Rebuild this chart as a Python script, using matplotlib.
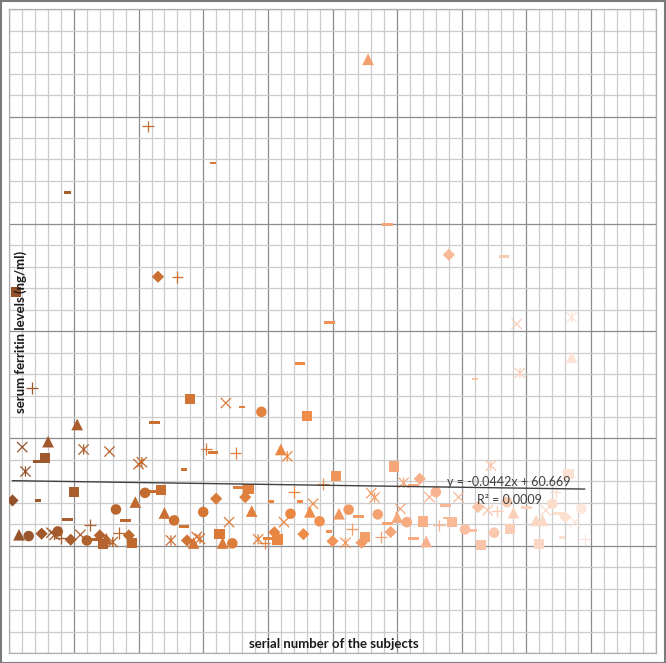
import numpy as np
import matplotlib
matplotlib.use("Agg")
import matplotlib.pyplot as plt
from matplotlib.colors import LinearSegmentedColormap
from matplotlib.path import Path
from matplotlib.patches import Rectangle

# ---------------- data ----------------
serial = [1, 2, 3, 4, 5, 6, 7, 9, 9, 10, 11, 12, 13, 14, 15, 16, 18, 18, 19, 20,
          21, 22, 23, 24, 25, 27, 28, 29, 30, 31, 32, 33, 34, 36, 37, 38, 39, 40, 41, 42,
          43, 45, 45, 46, 47, 48, 50, 51, 52, 54, 54, 55, 56, 57, 58, 59, 60, 61, 63, 63,
          64, 65, 66, 67, 68, 69, 70, 71, 72, 73, 74, 75, 77, 78, 79, 80, 81, 82, 83, 84,
          85, 86, 87, 88, 90, 90, 91, 92, 93, 94, 96, 97, 99, 99, 100, 101, 102, 104, 105, 106,
          108, 109, 110, 111, 112, 113, 114, 115, 117, 117, 118, 119, 120, 121, 122, 123, 125, 125, 127, 128,
          129, 130, 132, 133, 135, 135, 136, 137, 139, 141, 143, 144, 145, 146, 148, 149, 150, 151, 153, 154,
          155, 156, 157, 158, 160, 163, 164, 165, 166, 168, 169, 170, 171, 172, 173, 174, 174, 175, 177, 178]
ferritin = [42.2, 236.2, 10.2, 91.9, 69.2, 9.0, 146.8, 42.2, 78.5, 11.2, 81.7, 97.0, 12.1, 10.0, 13.3, 7.2, 24.5, 329.3, 5.6, 50.0,
            113.0, 10.2, 89.7, 4.9, 19.6, 5.9, 9.6, 1.9, 6.5, 87.8, 3.4, 33.8, 12.1, 23.6, 9.6, 2.8, 40.7, 76.0, 77.9, 49.3,
            390.8, 114.5, 50.5, 250.7, 52.1, 30.5, 4.9, 23.6, 250.7, 70.8, 18.0, 4.9, 137.0, 2.5, 8.1, 6.5, 31.4, 90.3, 86.6, 356.6,
            43.8, 11.0, 2.5, 133.0, 22.0, 2.2, 86.3, 54.6, 129.3, 45.3, 52.7, 32.3, 6.0, 124.8, 2.6, 6.5, 41.4, 12.5, 5.7, 89.7,
            22.0, 83.3, 29.8, 50.0, 169.7, 41.3, 10.8, 121.0, 31.6, 39.1, 22.8, 57.6, 208.3, 13.3, 4.2, 65.2, 29.8, 2.8, 33.6, 15.8,
            27.3, 2.8, 8.1, 453.4, 49.0, 45.0, 29.2, 8.1, 299.5, 21.0, 12.8, 73.8, 26.7, 34.4, 58.7, 22.0, 56.0, 6.5, 62.4, 22.7,
            4.0, 45.3, 50.0, 18.9, 37.5, 25.8, 271.2, 22.0, 45.3, 15.2, 14.2, 155.5, 36.0, 0.9, 33.0, 74.8, 12.1, 32.0, 269.4, 40.7,
            15.8, 30.7, 206.7, 161.0, 36.0, 23.6, 1.9, 23.6, 32.9, 39.1, 50.0, 29.8, 7.4, 26.7, 67.0, 175.7, 213.0, 22.0, 34.4, 6.5]
marker_kind = ['D', 's', '^', 'x', '*', 'o', '+', 'S', 'L', 'D', 's', '^', 'x', '*', 'o', '+', 'L', 'S', 'D', 's',
               '^', 'x', '*', 'o', '+', 'L', 'D', 's', '^', 'x', '*', 'o', '+', 'L', 'D', 's', '^', 'x', '*', 'o',
               '+', 'L', 'L', 'D', 's', '^', '*', 'o', '+', 'S', 'L', 'D', 's', '^', 'x', '*', 'o', '+', 'L', 'S',
               'D', 's', '^', 'x', 'x', 'o', '+', 'L', 'S', 'D', 's', '^', '*', 'o', '+', 'L', 'S', 'D', 's', '^',
               'x', '*', 'o', '+', 'L', 'S', 'D', 's', '^', 'x', 'o', '+', 'L', 'S', 'D', 's', '^', '*', 'o', '+',
               'L', 'D', 's', '^', 'x', '*', 'o', '+', 'L', 'L', 'D', 's', '^', 'x', '*', 'o', 'L', 'L', 'D', 's',
               '^', 'x', 'o', '+', 'L', 'S', 'D', 's', 'x', 'o', 'L', 'S', 'D', 's', 'x', '*', 'o', '+', 'L', 'o',
               's', '^', 'x', '*', 'L', '^', 's', '^', 'x', 'o', '+', 'L', 'S', 'D', 's', '^', '*', 'x', 'o', '+']

slope = -0.0442
intercept = 60.669
r_squared = 0.0009

x_label = "serial number of the subjects"
y_label = "serum ferritin levels (ng/ml)"

# ---------------- styling ----------------
W, H = 666, 663
fig = plt.figure(figsize=(W / 100, H / 100), dpi=100)
ax = fig.add_axes([9.3 / W, 1 - 653 / H, (655.7 - 9.3) / W, (653 - 9.3) / H])

ax.set_xlim(0, 200)
ax.set_ylim(-100, 500)
ax.set_xticks(np.arange(0, 201, 20))
ax.set_xticks(np.arange(0, 201, 4), minor=True)
ax.set_yticks(np.arange(-100, 501, 100))
ax.set_yticks(np.arange(-100, 501, 20), minor=True)
ax.tick_params(which='both', length=0, labelbottom=False, labelleft=False)
ax.grid(which='minor', color='#cccccc', lw=0.9)
ax.grid(which='major', color='#8c8c8c', lw=0.9)
ax.set_axisbelow(True)
for sp in ax.spines.values():
    sp.set_color('#b0b0b0')
    sp.set_linewidth(0.9)

cmap = LinearSegmentedColormap.from_list(
    'excel_orange',
    [(0.0, '#93522A'), (0.25, '#C86E30'), (0.5, '#EE8A45'), (0.72, '#F7B08A'), (1.0, '#FDE7DC')])

long_dash = Path([(-0.5, -0.14), (0.5, -0.14), (0.5, 0.14), (-0.5, 0.14), (-0.5, -0.14)],
                 [Path.MOVETO, Path.LINETO, Path.LINETO, Path.LINETO, Path.CLOSEPOLY])
short_dash = Path([(-0.5, -0.22), (0.5, -0.22), (0.5, 0.22), (-0.5, 0.22), (-0.5, -0.22)],
                  [Path.MOVETO, Path.LINETO, Path.LINETO, Path.LINETO, Path.CLOSEPOLY])
asterisk = Path([(-0.5, -0.5), (0.5, 0.5), (-0.5, 0.5), (0.5, -0.5), (0, -0.5), (0, 0.5)],
                [Path.MOVETO, Path.LINETO, Path.MOVETO, Path.LINETO, Path.MOVETO, Path.LINETO])

styles = {
    'D': dict(marker='D', size=6.2, filled=True),
    's': dict(marker='s', size=7.4, filled=True),
    '^': dict(marker='^', size=8.4, filled=True),
    'o': dict(marker='o', size=7.6, filled=True),
    'x': dict(marker='x', size=7.4, filled=False),
    '+': dict(marker='+', size=8.4, filled=False),
    '*': dict(marker=asterisk, size=7.4, filled=False),
    'L': dict(marker=long_dash, size=7.6, filled=True),
    'S': dict(marker=short_dash, size=4.4, filled=True),
}

serial_arr = np.array(serial)
ferr_arr = np.array(ferritin)
kind_arr = np.array(marker_kind)
norm = plt.Normalize(1, 178)

for kind, st in styles.items():
    m = kind_arr == kind
    if not m.any():
        continue
    cols = cmap(norm(serial_arr[m]))
    if st['filled']:
        ax.scatter(serial_arr[m], ferr_arr[m], marker=st['marker'], s=st['size'] ** 2,
                   c=cols, edgecolors='none', zorder=3)
    else:
        ax.scatter(serial_arr[m], ferr_arr[m], marker=st['marker'], s=st['size'] ** 2,
                   c=cols, linewidths=0.9, zorder=3)

# linear trendline (from the equation shown on the chart)
xt = np.array([serial_arr.min(), serial_arr.max()])
ax.plot(xt, slope * xt + intercept, color='#404040', lw=1.0, zorder=4)

eq = f"y = {slope:.4f}x + {intercept:.3f}"
fig.text(509 / W, 1 - 482.5 / H, eq, ha='center', va='center', fontsize=9,
         family='Lato', color='#404040')
fig.text(509 / W, 1 - 500 / H, f"R² = {r_squared:.4f}", ha='center', va='center',
         fontsize=9, family='Lato', color='#404040')

fig.text(333.5 / W, 1 - 644 / H, x_label, ha='center', va='center', fontsize=9.5,
         family='Lato', fontweight='bold', color='#1a1a1a')
fig.text(21 / W, 1 - 332 / H, y_label, ha='center', va='center', rotation=90,
         fontsize=9.5, family='Lato', fontweight='bold', color='#1a1a1a')

# outer chart border
fig.patches.append(Rectangle((0.5 / W, 0.5 / H), (W - 1.5) / W, (H - 1.5) / H,
                             transform=fig.transFigure, fill=False,
                             edgecolor='#7a7a7a', lw=1.5))

fig.savefig('out.png', dpi=100)
